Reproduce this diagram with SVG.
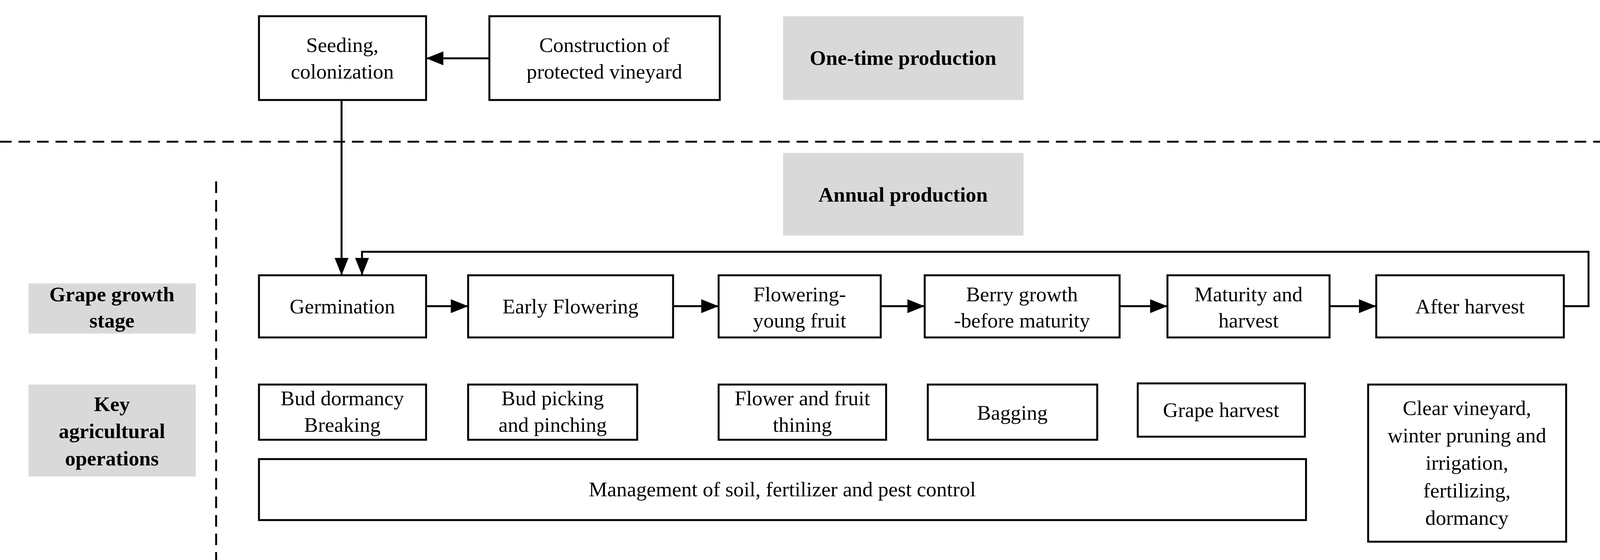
<svg xmlns="http://www.w3.org/2000/svg" width="4142" height="1433" viewBox="0 0 4142 1433">
<style>
.b{fill:#fff;stroke:#000;stroke-width:5}
.g{fill:#d9d9d9}
text{font-family:"Liberation Serif",serif;font-size:54px;text-anchor:middle;fill:#000}
.t{font-weight:bold}
.c{fill:none;stroke:#000;stroke-width:5}
.d{fill:none;stroke:#000;stroke-width:5;stroke-dasharray:30 18}
</style>
<defs><marker id="m" viewBox="0 0 10 10" refX="10" refY="5" markerWidth="9" markerHeight="9" orient="auto"><path d="M0,1L10,5L0,9z"/></marker></defs>
<rect width="4142" height="1433" fill="#fff"/>
<g transform="scale(0.988)">
<g id="connectors">
<line class="d" x1="0" y1="367" x2="4250" y2="367"/>
<line class="d" x1="560" y1="470" x2="560" y2="1460"/>
<line class="c" x1="1268" y1="151" x2="1104" y2="151" marker-end="url(#m)"/>
<line class="c" x1="885" y1="259" x2="885" y2="713" marker-end="url(#m)"/>
<polyline class="c" points="4052,793 4116,793 4116,652 938,652 938,713" marker-end="url(#m)"/>
<line class="c" x1="1104" y1="793" x2="1213" y2="793" marker-end="url(#m)"/>
<line class="c" x1="1744" y1="793" x2="1862" y2="793" marker-end="url(#m)"/>
<line class="c" x1="2282" y1="793" x2="2396" y2="793" marker-end="url(#m)"/>
<line class="c" x1="2901" y1="793" x2="3025" y2="793" marker-end="url(#m)"/>
<line class="c" x1="3445" y1="793" x2="3566" y2="793" marker-end="url(#m)"/>
</g>
<g id="seeding"><rect class="b" x="671" y="42" width="433" height="217"/><text x="887" y="135">Seeding,</text><text x="887" y="203">colonization</text></g>
<g id="construction"><rect class="b" x="1268" y="42" width="597" height="217"/><text x="1566" y="135">Construction of</text><text x="1566" y="203">protected vineyard</text></g>
<g id="onetime"><rect class="g" x="2029" y="42" width="623" height="217"/><text class="t" x="2340" y="168">One-time production</text></g>
<g id="annual"><rect class="g" x="2029" y="396" width="623" height="214"/><text class="t" x="2340" y="522">Annual production</text></g>
<g id="stage"><rect class="g" x="74" y="734" width="433" height="130"/><text class="t" x="290" y="780">Grape growth</text><text class="t" x="290" y="848">stage</text></g>
<g id="keyops"><rect class="g" x="74" y="996" width="433" height="238"/><text class="t" x="290" y="1065">Key</text><text class="t" x="290" y="1135">agricultural</text><text class="t" x="290" y="1205">operations</text></g>
<g id="germination"><rect class="b" x="671" y="713" width="433" height="161"/><text x="887" y="812">Germination</text></g>
<g id="early"><rect class="b" x="1213" y="713" width="531" height="161"/><text x="1478" y="812">Early Flowering</text></g>
<g id="flowering"><rect class="b" x="1862" y="713" width="420" height="161"/><text x="2072" y="780">Flowering-</text><text x="2072" y="848">young fruit</text></g>
<g id="berry"><rect class="b" x="2396" y="713" width="505" height="161"/><text x="2648" y="780">Berry growth</text><text x="2648" y="848">-before maturity</text></g>
<g id="maturity"><rect class="b" x="3025" y="713" width="420" height="161"/><text x="3235" y="780">Maturity and</text><text x="3235" y="848">harvest</text></g>
<g id="after"><rect class="b" x="3566" y="713" width="486" height="161"/><text x="3809" y="812">After harvest</text></g>
<g id="bud"><rect class="b" x="671" y="996" width="433" height="143"/><text x="887" y="1050">Bud dormancy</text><text x="887" y="1118">Breaking</text></g>
<g id="picking"><rect class="b" x="1213" y="996" width="438" height="143"/><text x="1432" y="1050">Bud picking</text><text x="1432" y="1118">and pinching</text></g>
<g id="thinning"><rect class="b" x="1862" y="996" width="434" height="143"/><text x="2079" y="1050">Flower and fruit</text><text x="2079" y="1118">thining</text></g>
<g id="bagging"><rect class="b" x="2404" y="996" width="439" height="143"/><text x="2623" y="1087">Bagging</text></g>
<g id="grapeharvest"><rect class="b" x="2948" y="993" width="433" height="138"/><text x="3164" y="1080">Grape harvest</text></g>
<g id="clear"><rect class="b" x="3545" y="996" width="513" height="407"/><text x="3801" y="1075">Clear vineyard,</text><text x="3801" y="1146">winter pruning and</text><text x="3801" y="1217">irrigation,</text><text x="3801" y="1288">fertilizing,</text><text x="3801" y="1359">dormancy</text></g>
<g id="management"><rect class="b" x="671" y="1189" width="2713" height="158"/><text x="2027" y="1285">Management of soil, fertilizer and pest control</text></g>
</g>
</svg>
